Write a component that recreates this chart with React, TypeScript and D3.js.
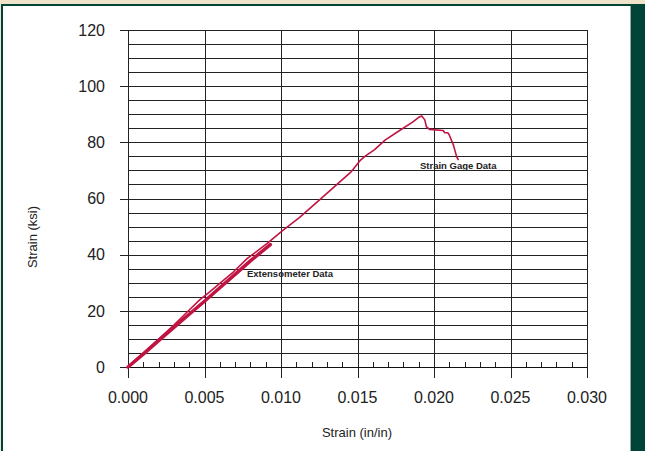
import React from "react";
import * as d3 from "d3";

const xTicks = [0, 0.005, 0.01, 0.015, 0.02, 0.025, 0.03];
const yTicks = [0, 20, 40, 60, 80, 100, 120];

const extStrain = [0, 0.001, 0.002, 0.003, 0.004, 0.005, 0.006, 0.007, 0.008, 0.0093];
const extStress = [0, 4.6, 9.4, 14.1, 18.8, 23.4, 28.2, 33.0, 37.8, 43.6];

const gageStrain = [0, 0.0005, 0.001, 0.002, 0.003, 0.004, 0.0047, 0.0053, 0.006, 0.0069, 0.0078, 0.0085, 0.0091, 0.0101, 0.0112, 0.0125, 0.0132, 0.0139, 0.0146, 0.0152, 0.0155, 0.0161, 0.0168, 0.0178, 0.0186, 0.0190, 0.0192, 0.0194, 0.0195, 0.0197, 0.0206, 0.0207, 0.0209, 0.0210, 0.02127, 0.02148, 0.0216];
const gageStress = [0, 2.6, 5.0, 9.9, 14.9, 20.3, 24.0, 26.6, 29.8, 33.9, 38.7, 41.5, 44.0, 48.6, 53.2, 59.4, 62.8, 66.2, 69.6, 73.7, 75.1, 77.3, 80.8, 84.4, 87.2, 88.9, 89.4, 88.0, 85.6, 84.6, 84.2, 83.4, 83.4, 82.6, 79.0, 74.9, 73.7];

export default function App() {
  const x = d3.scaleLinear().domain([0, 0.03]).range([128, 587]);
  const y = d3.scaleLinear().domain([0, 120]).range([367, 30]);
  const line = d3.line<[number, number]>().x(d => x(d[0])).y(d => y(d[1]));
  const ext = extStrain.map((v, i) => [v, extStress[i]] as [number, number]);
  const gage = gageStrain.map((v, i) => [v, gageStress[i]] as [number, number]);
  const hGrid = d3.range(5, 121, 5);
  const minorX = d3.range(0, 0.0301, 0.001).filter((_, i) => i % 5 !== 0);
  const font = "Liberation Sans, Arial, sans-serif";
  const red = "#c01442";
  return (
    <svg width={645} height={451} style={{ position: "absolute", left: 0, top: 0 }}>
      <rect x={0} y={0} width={645} height={451} fill="#efe4c9" />
      <rect x={1} y={4} width={644} height={447} fill="#004438" />
      <rect x={3} y={6} width={627} height={445} fill="#ffffff" />
      <line x1={630.5} y1={6} x2={630.5} y2={451} stroke="#9aa8a0" />
      {hGrid.map(v => (
        <line key={"h" + v} x1={128} x2={587} y1={Math.round(y(v)) + 0.5} y2={Math.round(y(v)) + 0.5} stroke="#222" strokeWidth={1} />
      ))}
      {xTicks.map(v => (
        <line key={"v" + v} x1={Math.round(x(v)) + 0.5} x2={Math.round(x(v)) + 0.5} y1={30} y2={378} stroke="#222" strokeWidth={1} />
      ))}
      {minorX.map(v => (
        <line key={"m" + v} x1={Math.round(x(v)) + 0.5} x2={Math.round(x(v)) + 0.5} y1={Math.round(y(0)) - 5} y2={Math.round(y(0))} stroke="#222" strokeWidth={1} />
      ))}
      {yTicks.map(v => (
        <line key={"yt" + v} x1={120} x2={128} y1={Math.round(y(v)) + 0.5} y2={Math.round(y(v)) + 0.5} stroke="#222" strokeWidth={1} />
      ))}
      <line x1={128} x2={587} y1={Math.round(y(0)) + 0.5} y2={Math.round(y(0)) + 0.5} stroke="#111" strokeWidth={1.2} />
      {yTicks.map(v => (
        <text key={"yl" + v} x={105} y={y(v)} dy="0.36em" textAnchor="end" fontFamily={font} fontSize={16} fill="#222">{v}</text>
      ))}
      {xTicks.map(v => (
        <text key={"xl" + v} x={x(v)} y={403} textAnchor="middle" fontFamily={font} fontSize={16} fill="#222">{d3.format(".3f")(v)}</text>
      ))}
      <path d={line(ext) || ""} fill="none" stroke={red} strokeWidth={3.5} strokeLinecap="round" />
      <path d={line(gage) || ""} fill="none" stroke={red} strokeWidth={1.6} strokeLinejoin="round" />
      <text x={247} y={277} fontFamily={font} fontSize={9.5} fontWeight="bold" fill="#222">Extensometer Data</text>
      <text x={420} y={169} fontFamily={font} fontSize={9.5} fontWeight="bold" fill="#222">Strain Gage Data</text>
      <text transform="translate(37,237) rotate(-90)" textAnchor="middle" fontFamily={font} fontSize={13} fill="#222">Strain (ksi)</text>
      <text x={357} y={437} textAnchor="middle" fontFamily={font} fontSize={13} fill="#222">Strain (in/in)</text>
    </svg>
  );
}
